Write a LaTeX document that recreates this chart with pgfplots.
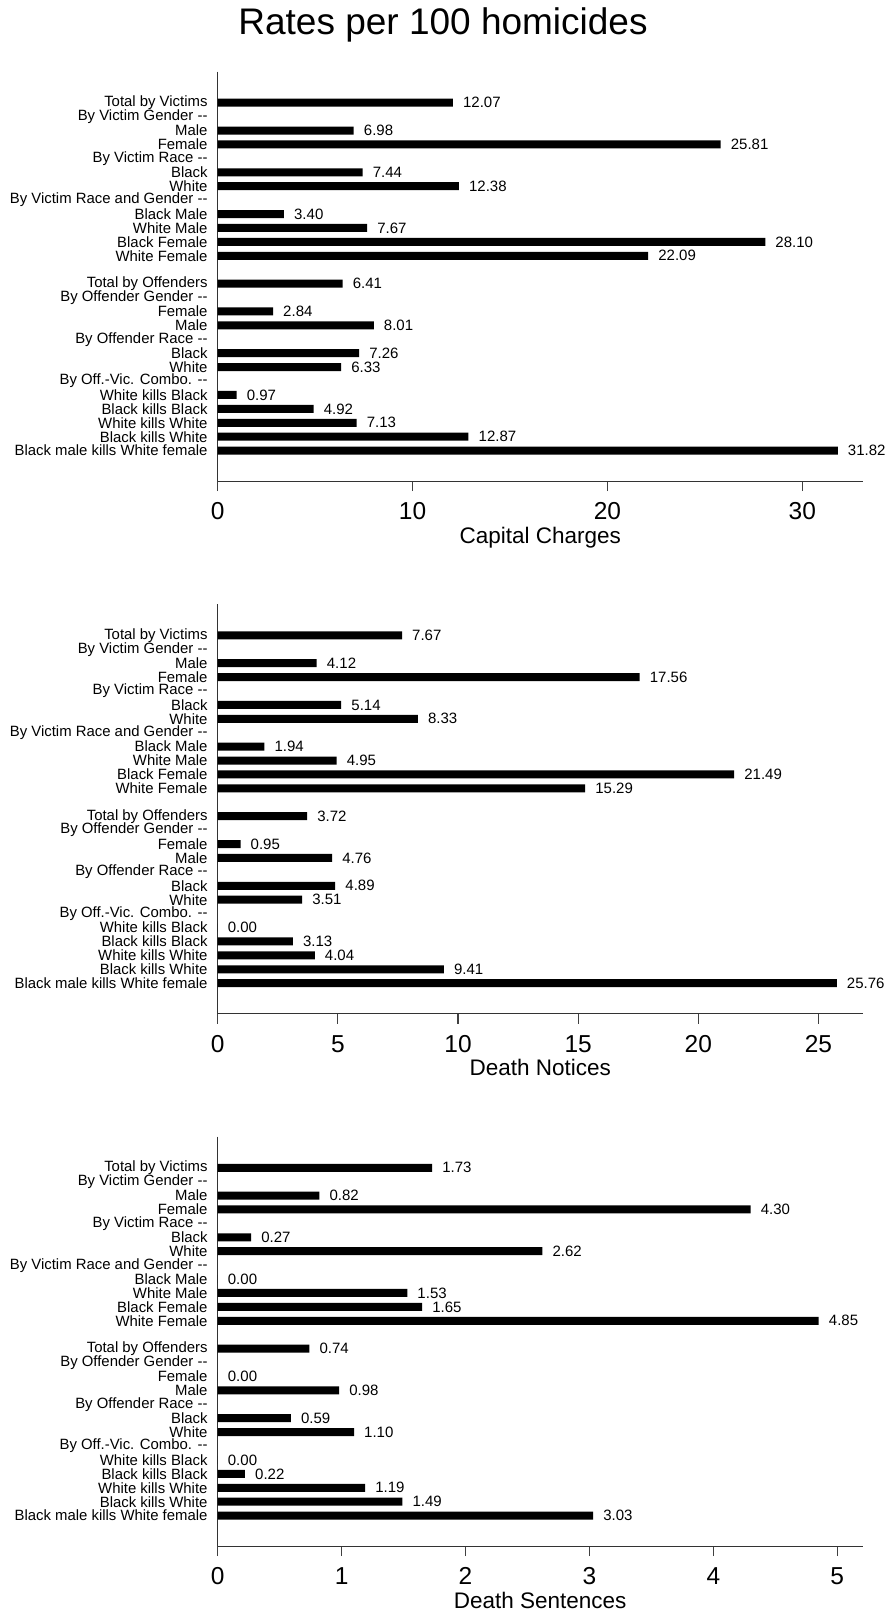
\documentclass[border=0pt]{standalone}
\usepackage{fontspec}
\setmainfont{Liberation Sans}
\usepackage{pgfplots}
\pgfplotsset{compat=1.18}
\newcommand\dd{-\kern0pt-}
\newcommand\fs[1]{\fontsize{#1}{#1}\selectfont}

\pgfplotsset{
  ratepanel/.style={
    width=645pt, height=409.5pt, scale only axis,
    anchor=north west,
    xbar, bar width=8pt,
    xmin=0,
    ymin=-2.23, ymax=27.2, y dir=reverse,
    axis x line*=bottom, axis y line*=left,
    axis line style={line width=1.2pt, black!80, -},
    tick align=outside, major tick length=10pt,
    xtick style={line width=1.2pt, black!75},
    ytick style={draw=none},
    ytick={0,...,25},
    yticklabels={Total by Victims, By Victim Gender \dd, Male~, Female~,
      By Victim Race \dd, Black~, White~, By Victim Race and Gender \dd,
      Black Male, White Male, Black Female, White Female, {},
      Total by Offenders, By Offender Gender \dd, Female, Male,
      By Offender Race \dd, Black, White, By Off.-Vic. Combo. \dd,
      White kills Black, Black kills Black, White kills White,
      Black kills White, Black male kills White female},
    yticklabel style={font=\fs{14.9}, anchor=east, inner sep=0pt, xshift=0pt},
    xticklabel style={font=\fs{24.5}, yshift=-8pt},
    /pgf/number format/assume math mode=true,
    xlabel style={font=\fs{22.5}},
    nodes near coords, point meta=explicit symbolic,
    nodes near coords style={font=\fs{15}, anchor=west, inner sep=0pt, xshift=10pt},
    clip=false,
  },
  barstyle/.style={fill=black, draw=none},
}

\begin{document}
\begin{tikzpicture}
\path[use as bounding box] (0,0) rectangle (886pt,-1614pt);
\node at (443pt,-25pt) {\fs{37}Rates per 100 homicides};

% Capital charges
\begin{axis}[ratepanel, at={(217.7pt,-71.7pt)}, xmax=33.1, xtick={0,10,20,30},
  xlabel={Capital Charges}]
  \addplot[barstyle] coordinates {
    (12.07,0) [12.07] (6.98,2) [6.98] (25.81,3) [25.81]
    (7.44,5) [7.44] (12.38,6) [12.38]
    (3.40,8) [3.40] (7.67,9) [7.67] (28.10,10) [28.10] (22.09,11) [22.09]
    (6.41,13) [6.41] (2.84,15) [2.84] (8.01,16) [8.01]
    (7.26,18) [7.26] (6.33,19) [6.33]
    (0.97,21) [0.97] (4.92,22) [4.92] (7.13,23) [7.13] (12.87,24) [12.87]
    (31.82,25) [31.82]
  };
\end{axis}

% Death notices
\begin{axis}[ratepanel, at={(217.7pt,-604.3pt)}, xmax=26.84, xtick={0,5,...,25},
  xlabel={Death Notices}]
  \addplot[barstyle] coordinates {
    (7.67,0) [7.67] (4.12,2) [4.12] (17.56,3) [17.56]
    (5.14,5) [5.14] (8.33,6) [8.33]
    (1.94,8) [1.94] (4.95,9) [4.95] (21.49,10) [21.49] (15.29,11) [15.29]
    (3.72,13) [3.72] (0.95,15) [0.95] (4.76,16) [4.76]
    (4.89,18) [4.89] (3.51,19) [3.51]
    (0.00,21) [0.00] (3.13,22) [3.13] (4.04,23) [4.04] (9.41,24) [9.41]
    (25.76,25) [25.76]
  };
\end{axis}

% Death sentences
\begin{axis}[ratepanel, at={(217.7pt,-1136.7pt)}, xmax=5.205, xtick={0,...,5},
  xlabel={Death Sentences}]
  \addplot[barstyle] coordinates {
    (1.73,0) [1.73] (0.82,2) [0.82] (4.30,3) [4.30]
    (0.27,5) [0.27] (2.62,6) [2.62]
    (0.00,8) [0.00] (1.53,9) [1.53] (1.65,10) [1.65] (4.85,11) [4.85]
    (0.74,13) [0.74] (0.00,15) [0.00] (0.98,16) [0.98]
    (0.59,18) [0.59] (1.10,19) [1.10]
    (0.00,21) [0.00] (0.22,22) [0.22] (1.19,23) [1.19] (1.49,24) [1.49]
    (3.03,25) [3.03]
  };
\end{axis}
\end{tikzpicture}
\end{document}
